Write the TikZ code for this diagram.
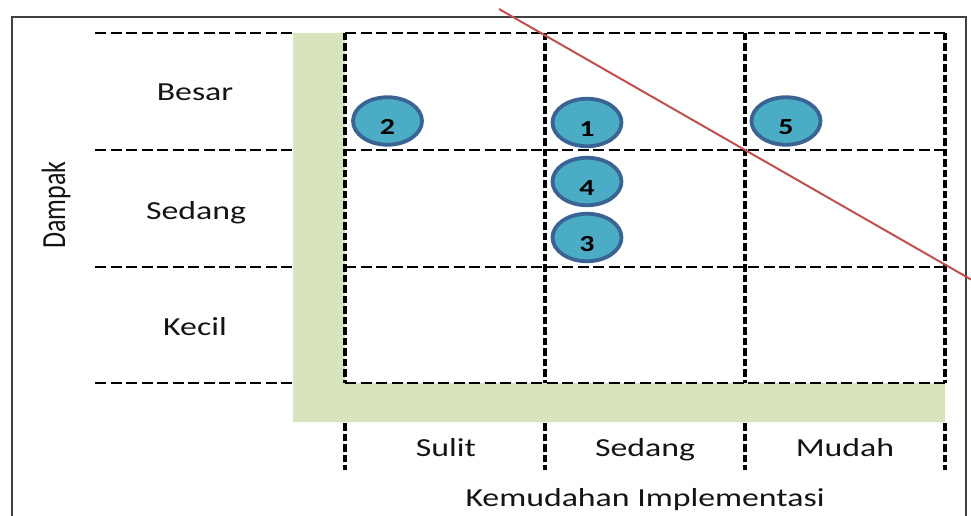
\documentclass[tikz,border=0pt]{standalone}
\usepackage{fontspec}
\setmainfont{Carlito}[FakeStretch=1.3]
\newfontfamily\plainfont{Carlito}
\usetikzlibrary{shapes.geometric}
\definecolor{bargreen}{HTML}{D7E4BD}
\definecolor{bubblefill}{HTML}{4BACC6}
\definecolor{bubbleedge}{HTML}{3A6494}
\definecolor{redline}{HTML}{C0504D}
\definecolor{framegray}{HTML}{404040}
\definecolor{textdark}{HTML}{141414}
\tikzset{
  hdash/.style={line width=2.8pt, dash pattern=on 11pt off 4.5pt},
  vdash/.style={line width=3.2pt, dash pattern=on 7.5pt off 3pt},
  lbl/.style={anchor=base, inner sep=0pt, text=textdark, font=\fontsize{26}{30}\selectfont},
  bubble/.style={ellipse, draw=bubbleedge, fill=bubblefill, line width=3.8pt, minimum width=69pt, minimum height=47.5pt, inner sep=0pt},
  num/.style={anchor=base, inner sep=0pt, text=black, font=\fontsize{23}{27}\selectfont\bfseries},
}
\begin{document}
\begin{tikzpicture}[x=1pt, y=-1pt]
\useasboundingbox (0,0) rectangle (971,516);
% frame
\draw[framegray, line width=1.5pt] (12,516) -- (12,17) -- (966,17) -- (966,516);
% green L bar
\fill[bargreen] (293,33) -- (345,33) -- (345,383) -- (945,383) -- (945,422) -- (293,422) -- cycle;
% horizontal dashed lines
\foreach \y in {33,150,267,383} {
  \draw[hdash] (95,\y) -- (293,\y);
  \draw[hdash] (345,\y) -- (945,\y);
}
% vertical dashed lines
\foreach \x in {345,545,745,945} {
  \draw[vdash] (\x,33) -- (\x,383);
  \draw[vdash] (\x,423) -- (\x,470);
}
% row labels
\node[lbl] (besar) at (195,101) {Besar};
\node[lbl] (sedangrow) at (196,219) {Sedang};
\node[lbl] (kecil) at (195,335) {Kecil};
\node[anchor=base, inner sep=0pt, text=textdark, rotate=90, font=\plainfont\fontsize{26}{30}\selectfont] (dampak) at (65,205) {\scalebox{1}[1.3]{Dampak}};
% column labels
\node[lbl] (sulit) at (446,456) {Sulit};
\node[lbl] (sedangcol) at (645,456) {Sedang};
\node[lbl] (mudah) at (845,456) {Mudah};
\node[lbl] (kemudahan) at (645,506) {Kemudahan Implementasi};
% red line
\coordinate (rA) at (499,9);
\coordinate (rB) at (971,279.5);
\draw[redline, line width=2pt] (rA) -- (rB);
% bubbles
\node[bubble] (b2) at (387.5,121) {};
\node[bubble] (b1) at (587,122.5) {};
\node[bubble] (b4) at (587,181.5) {};
\node[bubble] (b3) at (587,237.5) {};
\node[bubble] (b5) at (786,121) {};
\node[num] (n2) at ([yshift=-13.5pt]b2.center) {2};
\node[num] (n1) at ([yshift=-13.5pt]b1.center) {1};
\node[num] (n4) at ([yshift=-13.5pt]b4.center) {4};
\node[num] (n3) at ([yshift=-13.5pt]b3.center) {3};
\node[num] (n5) at ([yshift=-13.5pt]b5.center) {5};
\end{tikzpicture}
\end{document}
